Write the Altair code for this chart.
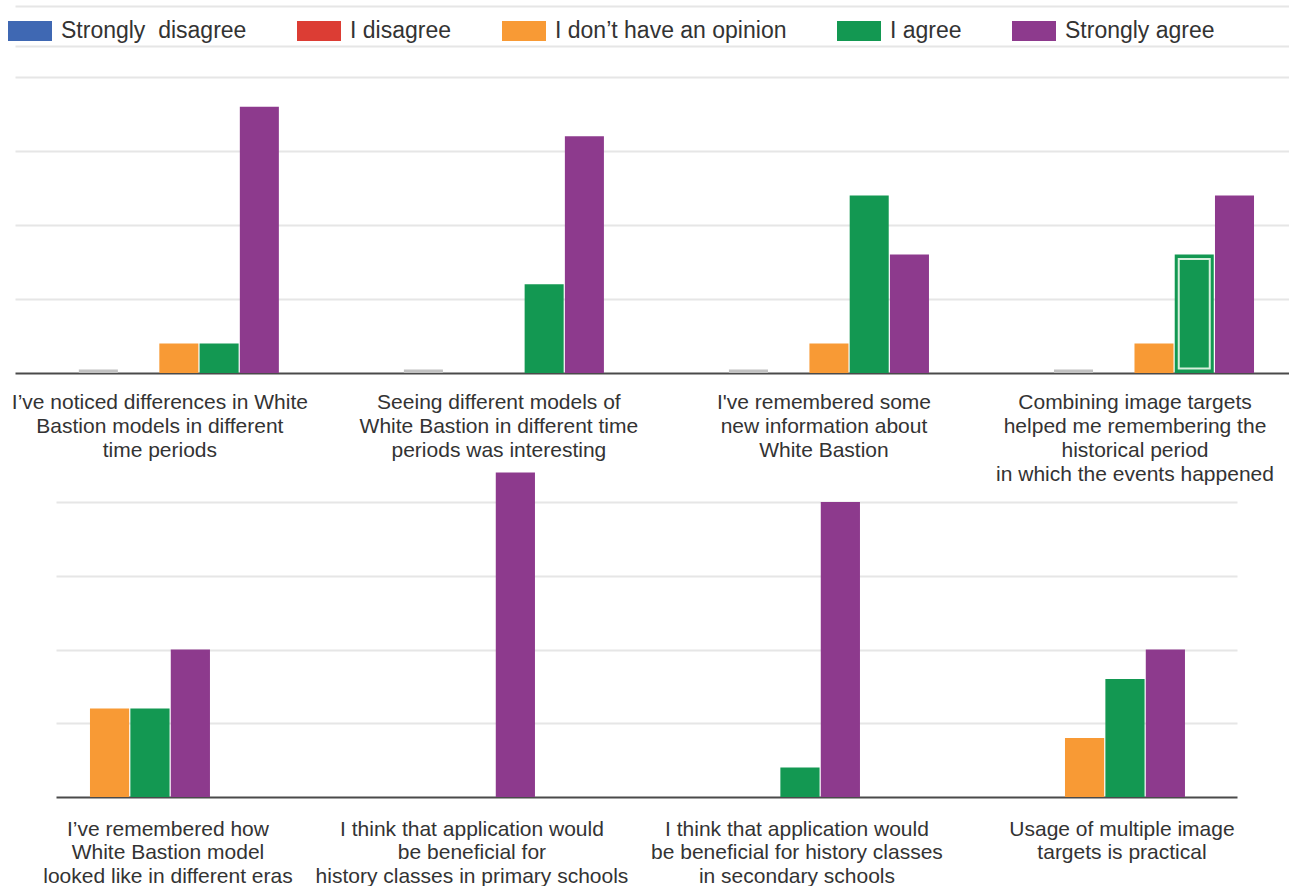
import altair as alt
import pandas as pd

# ---------------- data ----------------
CATS = ["Strongly disagree", "I disagree", "I don’t have an opinion", "I agree", "Strongly agree"]
COLORS = ["#3f68b3", "#dc3d34", "#f89a35", "#139852", "#8d3a8d"]
NB = "\u00a0"
LEGEND_LABELS = [
    "Strongly" + NB + NB + "disagree",
    "I disagree",
    "I don’t have an opinion",
    "I agree",
    "Strongly agree",
]

top_questions = [
    "I’ve noticed differences in White|Bastion models in different|time periods",
    "Seeing different models of|White Bastion in different time|periods was interesting",
    "I've remembered some|new information about|White Bastion",
    "Combining image targets|helped me remembering the|historical period|in which the events happened",
]
top_strongly_disagree = [0, 0, 0, 0]
top_disagree = [0, 0, 0, 0]
top_no_opinion = [1, 0, 1, 1]
top_agree = [1, 3, 6, 4]
top_strongly_agree = [9, 8, 4, 6]
top_zero_marker = [0.12, 0.12, 0.12, 0.12]

bottom_questions = [
    "I’ve remembered how|White Bastion model|looked like in different eras",
    "I think that application would|be beneficial for|history classes in primary schools",
    "I think that application would|be beneficial for history classes|in secondary schools",
    "Usage of multiple image|targets is practical",
]
bottom_no_opinion = [3, 0, 0, 2]
bottom_agree = [3, 0, 1, 4]
bottom_strongly_agree = [5, 11, 10, 5]

outlined_question = top_questions[3]
outlined_category = "I agree"


def long_df(questions, series):
    rows = []
    for cat, vals in series:
        for q, v in zip(questions, vals):
            rows.append({"question": q, "category": cat, "value": v})
    return pd.DataFrame(rows)


top_df = long_df(top_questions, [
    (CATS[0], top_strongly_disagree),
    (CATS[1], top_disagree),
    (CATS[2], top_no_opinion),
    (CATS[3], top_agree),
    (CATS[4], top_strongly_agree),
])
marker_df = pd.DataFrame({"question": top_questions,
                          "category": [CATS[0]] * len(top_questions),
                          "value": top_zero_marker})
bottom_df = long_df(bottom_questions, [
    (CATS[2], bottom_no_opinion),
    (CATS[3], bottom_agree),
    (CATS[4], bottom_strongly_agree),
])

FONT = "Liberation Sans"
TXT = "#333333"

legend_expr = " : ".join(
    f"datum.label == '{c}' ? '{l}'" for c, l in zip(CATS, LEGEND_LABELS)
) + " : datum.label"

color_scale = alt.Scale(domain=CATS, range=COLORS)


def x_axis(pad, lh, off):
    return alt.Axis(title=None, ticks=False, labelAngle=0, labelFont=FONT,
                    labelFontSize=21, labelColor=TXT, labelLineHeight=lh,
                    labelPadding=pad, labelLimit=600, labelOffset=off,
                    labelExpr="split(datum.label, '|')",
                    domainColor="#4a4a4a", domainWidth=2, grid=False)


def y_axis(vals):
    return alt.Axis(title=None, labels=False, ticks=False, domain=False,
                    values=vals, gridColor="#e6e6e6", gridWidth=2)


# ---------------- top panel ----------------
top_off = {
    "condition": {"test": f"datum.value == '{top_questions[0]}' || datum.value == '{top_questions[3]}'",
                  "value": -19},
    "value": -5,
}
tx = alt.X("question:N", sort=top_questions,
           scale=alt.Scale(paddingInner=0.3846, paddingOuter=0.152, align=0.646),
           axis=x_axis(18, 24, top_off))
txo = alt.XOffset("category:N", scale=alt.Scale(domain=CATS, paddingInner=0.03))
ty = alt.Y("value:Q", scale=alt.Scale(domain=[0, 12.4], nice=False),
           axis=y_axis([2.5, 5, 7.5, 10, 11.05, 12.4]))

top_bars = alt.Chart(top_df).transform_filter("datum.value > 0").mark_bar().encode(
    x=tx, xOffset=txo, y=ty,
    color=alt.Color("category:N", scale=color_scale, legend=alt.Legend(
        orient="none", legendX=-7, legendY=3, direction="horizontal", title=None,
        symbolType="M-1,-0.45H1V0.45H-1Z", symbolSize=1936, symbolStrokeWidth=0,
        symbolOpacity=1, labelFont=FONT, labelFontSize=23, labelColor=TXT,
        labelOffset=9, columnPadding=50, labelLimit=800, labelExpr=legend_expr)),
)

top_marker = alt.Chart(marker_df).mark_bar(color="#c2c2c2").encode(
    x=tx, xOffset=txo, y=ty)

top_outline = alt.Chart(top_df).transform_filter(
    (alt.datum.question == outlined_question) & (alt.datum.category == outlined_category)
).transform_calculate(
    top="datum.value - 0.15", bot="0.15"
).mark_bar(filled=False, stroke="#d6efdc", strokeWidth=2, width=31).encode(
    x=tx, xOffset=txo, y=alt.Y("top:Q"), y2="bot:Q")

top = alt.layer(top_marker, top_bars, top_outline).properties(width=1274, height=367)

# ---------------- bottom panel ----------------
bot_off = {
    "condition": {"test": f"datum.value == '{bottom_questions[0]}'", "value": 18},
    "value": -3,
}
bx = alt.X("question:N", sort=bottom_questions,
           scale=alt.Scale(paddingInner=0.6308, paddingOuter=0.1323, align=0.395),
           axis=x_axis(21, 23.5, bot_off))
bxo = alt.XOffset("category:N", scale=alt.Scale(domain=CATS[2:], paddingInner=0.03))
by = alt.Y("value:Q", scale=alt.Scale(domain=[0, 10], nice=False),
           axis=y_axis([2.5, 5, 7.5, 10]))

bottom = alt.Chart(bottom_df).transform_filter("datum.value > 0").mark_bar().encode(
    x=bx, xOffset=bxo, y=by,
    color=alt.Color("category:N", scale=color_scale, legend=None),
).properties(width=1181, height=295)

spacer = alt.Chart(pd.DataFrame({"v": [0]})).mark_point(opacity=0).encode(
    x=alt.value(0), y=alt.value(0)).properties(width=41, height=10)

chart = alt.vconcat(
    top,
    alt.hconcat(spacer, bottom, spacing=0, bounds="flush"),
    spacing=129, bounds="flush",
).resolve_scale(color="independent", xOffset="independent").properties(
    padding={"left": 8, "top": 6, "right": 0, "bottom": 0},
    background="white",
).configure(font=FONT).configure_view(stroke="transparent", strokeWidth=0)

chart.save("out.html", embed_options={"renderer": "svg", "actions": False})
